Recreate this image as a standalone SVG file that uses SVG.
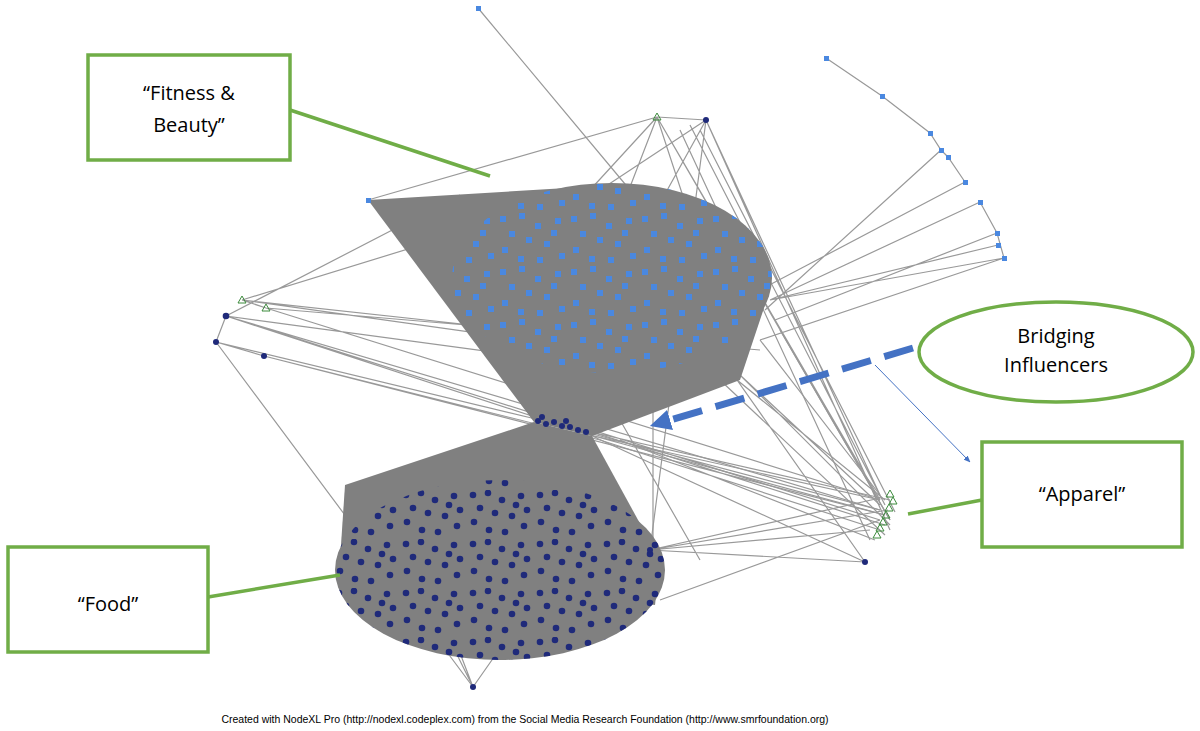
<svg xmlns="http://www.w3.org/2000/svg" width="1200" height="731" viewBox="0 0 1200 731">
<style>
.box{fill:#fff;stroke:#70ad47;stroke-width:3.5}
.lead{stroke:#70ad47;stroke-width:3.5;fill:none}
.lbl{font-family:"Open Sans","Liberation Sans",sans-serif;font-size:20px;fill:#000;text-anchor:middle}
.e{stroke:#999;stroke-width:1.2;fill:none}
.sq{fill:#4a88e0}
.dot{fill:#1f2a7a}
.tri{fill:none;stroke:#3d8b3d;stroke-width:1}
</style>
<defs>
<pattern id="bp" width="71" height="53" patternUnits="userSpaceOnUse">
<rect x="3" y="4" width="6" height="6" class="sq"/><rect x="22" y="1" width="6" height="6" class="sq"/><rect x="38" y="11" width="6" height="6" class="sq"/><rect x="12" y="19" width="6" height="6" class="sq"/><rect x="29" y="25" width="6" height="6" class="sq"/><rect x="47" y="29" width="6" height="6" class="sq"/><rect x="5" y="35" width="6" height="6" class="sq"/><rect x="21" y="44" width="6" height="6" class="sq"/><rect x="58" y="6" width="6" height="6" class="sq"/><rect x="62" y="41" width="6" height="6" class="sq"/><rect x="40" y="45" width="6" height="6" class="sq"/><rect x="54" y="18" width="6" height="6" class="sq"/>
</pattern>
<pattern id="np" width="67" height="49" patternUnits="userSpaceOnUse">
<circle cx="4" cy="5" r="3.3" class="dot"/><circle cx="19" cy="3" r="3.3" class="dot"/><circle cx="33" cy="10" r="3.3" class="dot"/><circle cx="11" cy="18" r="3.3" class="dot"/><circle cx="26" cy="23" r="3.3" class="dot"/><circle cx="43" cy="26" r="3.3" class="dot"/><circle cx="5" cy="32" r="3.3" class="dot"/><circle cx="20" cy="40" r="3.3" class="dot"/><circle cx="36" cy="42" r="3.3" class="dot"/><circle cx="52" cy="6" r="3.3" class="dot"/><circle cx="58" cy="20" r="3.3" class="dot"/><circle cx="55" cy="36" r="3.3" class="dot"/><circle cx="47" cy="15" r="3.3" class="dot"/>
</pattern>
<marker id="ah" viewBox="0 0 10 10" refX="5" refY="5" markerWidth="3" markerHeight="3" orient="auto"><path d="M0,0L10,5L0,10z" fill="#4472c4"/></marker>
<marker id="ah2" viewBox="0 0 10 10" refX="9" refY="5" markerWidth="7" markerHeight="7" orient="auto"><path d="M0,1L10,5L0,9z" fill="#4472c4"/></marker>
</defs>
<rect width="1200" height="731" fill="#fff"/>
<g id="edges">
<path class="e" d="M478,8L630,190M826,58L882,96L930,133L941,150L948,157L965,182M980,202L997,233L1004,258M770,300L1004,258M770,300L998,245M770,300L980,202M760,290L965,182M765,310L941,150M775,320L997,233M760,340L1004,258"/>
<path class="e" d="M657,117L368,200M657,117L590,190M657,117L540,420M657,117L880,500M657,117L890,520M657,117L740,370M706,120L600,190M706,120L880,495M706,120L890,530M706,120L650,550M706,120L540,420M657,117L706,120M680,130L870,540M690,125L885,505M700,130L895,512"/>
<path class="e" d="M242,300L600,190M242,300L700,350M242,300L266,308M266,308L760,350M266,308L880,500M226,316L590,435M226,316L880,510M226,316L885,525M226,316L216,342M216,342L264,356M216,342L540,420M216,342L473,687M264,356L885,515M264,356L600,440M226,316L460,195M226,316L700,380M242,300L740,370"/>
<path class="e" d="M590,435L880,500M590,435L885,515M590,435L865,562M650,550L880,498M650,550L888,510M650,550L870,530M650,550L865,562M660,600L880,520M740,375L880,505M740,375L890,525M720,380L885,535M730,370L865,562M653,330L653,550M620,420L700,560M700,350L885,500M760,340L880,495M780,330L890,520M473,687L430,600M473,687L520,620M473,687L455,640"/>
<path class="e" d="M540,420L880,510M560,425L890,500M600,440L880,530M620,440L875,540M560,420L880,520"/>
<polygon points="368,200 600,186 770,290 740,380 592,436 534,422" fill="#808080"/>
<polygon points="534,422 592,436 660,560 655,605 340,560 345,485" fill="#808080"/>
</g>
<g id="fitness-cluster">
<ellipse cx="612" cy="278" rx="160" ry="95" fill="#808080"/>
<ellipse cx="612" cy="278" rx="160" ry="95" fill="url(#bp)"/>
<rect x="366" y="198" width="5" height="5" class="sq"/>
</g>
<g id="food-cluster">
<ellipse cx="500" cy="570" rx="165" ry="90" fill="#808080"/>
<ellipse cx="500" cy="570" rx="165" ry="90" fill="url(#np)"/>
<circle cx="538" cy="421" r="3" class="dot"/><circle cx="546" cy="424" r="3" class="dot"/><circle cx="554" cy="422" r="3" class="dot"/><circle cx="562" cy="426" r="3" class="dot"/><circle cx="570" cy="427" r="3" class="dot"/><circle cx="578" cy="430" r="3" class="dot"/><circle cx="586" cy="432" r="3" class="dot"/><circle cx="542" cy="417" r="3" class="dot"/><circle cx="566" cy="421" r="3" class="dot"/>
</g>
<g id="outliers">
<rect x="476" y="6" width="5" height="5" class="sq"/><rect x="824" y="56" width="5" height="5" class="sq"/><rect x="880" y="94" width="5" height="5" class="sq"/><rect x="928" y="131" width="5" height="5" class="sq"/><rect x="939" y="148" width="5" height="5" class="sq"/><rect x="946" y="155" width="5" height="5" class="sq"/><rect x="963" y="180" width="5" height="5" class="sq"/><rect x="978" y="200" width="5" height="5" class="sq"/><rect x="995" y="231" width="5" height="5" class="sq"/><rect x="996" y="243" width="5" height="5" class="sq"/><rect x="1002" y="256" width="5" height="5" class="sq"/>
<circle cx="706" cy="120" r="3" class="dot"/><circle cx="226" cy="316" r="3.3" class="dot"/><circle cx="216" cy="342" r="3" class="dot"/><circle cx="264" cy="356" r="3" class="dot"/><circle cx="865" cy="562" r="3" class="dot"/><circle cx="473" cy="687" r="3" class="dot"/><circle cx="650" cy="550" r="3" class="dot"/>
<path class="tri" d="M657,113L661,120L653,120zM242,296L246,303L238,303zM266,304L270,311L262,311zM890,490L894,497L886,497zM893,497L897,504L889,504zM889,504L893,511L885,511zM886,511L890,518L882,518zM883,518L887,525L879,525zM880,524L884,531L876,531zM877,531L881,538L873,538z"/>
</g>
<g id="fitness-label"><rect class="box" x="88" y="55" width="202" height="105"/><text class="lbl" x="189" y="100">“Fitness &amp;</text><text class="lbl" x="189" y="132">Beauty”</text><line class="lead" x1="290" y1="110" x2="490" y2="176"/></g>
<g id="food-label"><rect class="box" x="8" y="547" width="200" height="105"/><text class="lbl" x="108" y="611">“Food”</text><line class="lead" x1="208" y1="597" x2="340" y2="575"/></g>
<g id="apparel-label"><rect class="box" x="982" y="442" width="200" height="105"/><text class="lbl" x="1082" y="501">“Apparel”</text><line class="lead" x1="982" y1="500" x2="908" y2="514"/></g>
<g id="bridging-label"><ellipse cx="1056" cy="352" rx="137" ry="50" fill="#fff" stroke="#70ad47" stroke-width="3.5"/><text class="lbl" x="1056" y="343">Bridging</text><text class="lbl" x="1056" y="372">Influencers</text></g>
<g id="arrows">
<line x1="913" y1="348" x2="660" y2="423" stroke="#4472c4" stroke-width="7" stroke-dasharray="30,14" marker-end="url(#ah)"/>
<line x1="875" y1="365" x2="970" y2="462" stroke="#4472c4" stroke-width="1" marker-end="url(#ah2)"/>
</g>
<text x="525" y="723" font-family="Liberation Sans,Arial,sans-serif" font-size="10.5" text-anchor="middle" fill="#000">Created with NodeXL Pro (http://nodexl.codeplex.com) from the Social Media Research Foundation (http://www.smrfoundation.org)</text>
</svg>
